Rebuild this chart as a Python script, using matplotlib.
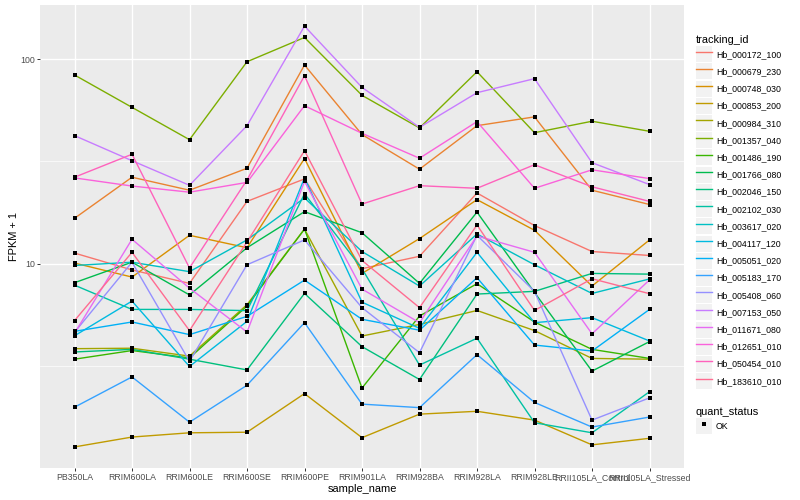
import matplotlib
matplotlib.use("Agg")
import matplotlib.pyplot as plt
from matplotlib.lines import Line2D
from matplotlib.patches import Rectangle
from matplotlib.legend_handler import HandlerTuple
from matplotlib.ticker import FixedLocator, NullFormatter

plt.rcParams['font.family'] = ['Liberation Sans', 'DejaVu Sans']

# x categories
samples = ["PB350LA", "RRIM600LA", "RRIM600LE", "RRIM600SE", "RRIM600PE",
           "RRIM901LA", "RRIM928BA", "RRIM928LA", "RRIM928LE",
           "RRII105LA_Control", "RRII105LA_Stressed"]

# FPKM + 1 per gene
hb_000172_100 = [11.3, 9.35, 8.04, 20.2, 26.0, 9.48, 10.9, 22.2, 15.4, 11.5, 11.0]
hb_000679_230 = [16.7, 26.5, 22.9, 29.3, 93.5, 42.8, 29.0, 47.3, 52.2, 22.9, 19.5]
hb_000748_030 = [10.1, 8.63, 13.8, 12.0, 32.7, 8.99, 13.3, 20.6, 14.6, 7.80, 13.1]
hb_000853_200 = [1.28, 1.43, 1.50, 1.51, 2.33, 1.42, 1.85, 1.91, 1.73, 1.31, 1.41]
hb_000984_310 = [3.86, 3.88, 3.55, 6.33, 14.8, 4.45, 5.07, 5.93, 4.73, 3.46, 3.43]
hb_001357_040 = [83.6, 58.1, 40.4, 97.0, 127.4, 66.5, 46.1, 86.7, 43.7, 49.7, 44.4]
hb_001486_190 = [3.43, 3.78, 3.48, 6.23, 14.8, 2.48, 5.57, 8.01, 5.21, 3.83, 3.46]
hb_001766_080 = [8.10, 10.2, 7.06, 12.0, 18.0, 14.2, 8.04, 17.9, 7.26, 3.00, 4.18]
hb_002046_150 = [3.72, 3.83, 3.43, 3.04, 7.18, 3.95, 2.73, 7.13, 7.35, 8.99, 8.92]
hb_002102_030 = [7.88, 6.00, 6.00, 5.92, 22.0, 9.48, 3.21, 4.34, 1.68, 1.50, 2.38]
hb_003617_020 = [9.83, 10.2, 9.17, 13.1, 21.0, 11.5, 7.80, 14.0, 9.91, 7.18, 8.45]
hb_004117_120 = [4.46, 6.59, 3.16, 5.25, 26.3, 6.51, 4.85, 11.4, 5.17, 5.47, 4.21]
hb_005051_020 = [4.69, 5.21, 4.52, 5.55, 8.34, 5.37, 4.75, 8.57, 4.02, 3.76, 6.00]
hb_005183_170 = [2.00, 2.81, 1.69, 2.56, 5.17, 2.07, 1.99, 3.61, 2.11, 1.60, 1.79]
hb_005408_060 = [4.64, 10.2, 3.35, 9.91, 13.1, 6.12, 3.69, 13.8, 7.35, 1.73, 2.22]
hb_007153_050 = [42.3, 31.9, 24.2, 47.3, 144.8, 72.7, 46.4, 68.5, 80.2, 31.2, 24.4]
hb_011671_080 = [4.59, 13.2, 7.62, 4.65, 25.3, 7.54, 5.17, 13.7, 11.4, 4.56, 8.36]
hb_012651_010 = [26.3, 24.0, 22.4, 25.0, 59.2, 43.4, 32.8, 49.5, 23.4, 28.8, 26.1]
hb_050454_010 = [26.5, 34.3, 9.56, 25.7, 82.9, 19.6, 24.1, 23.4, 30.5, 23.8, 20.2]
hb_183610_010 = [5.29, 11.4, 4.73, 12.8, 35.7, 10.4, 6.12, 15.5, 5.93, 8.47, 7.16]

tracking_ids = ["Hb_000172_100", "Hb_000679_230", "Hb_000748_030", "Hb_000853_200",
                "Hb_000984_310", "Hb_001357_040", "Hb_001486_190", "Hb_001766_080",
                "Hb_002046_150", "Hb_002102_030", "Hb_003617_020", "Hb_004117_120",
                "Hb_005051_020", "Hb_005183_170", "Hb_005408_060", "Hb_007153_050",
                "Hb_011671_080", "Hb_012651_010", "Hb_050454_010", "Hb_183610_010"]
series = [hb_000172_100, hb_000679_230, hb_000748_030, hb_000853_200, hb_000984_310,
          hb_001357_040, hb_001486_190, hb_001766_080, hb_002046_150, hb_002102_030,
          hb_003617_020, hb_004117_120, hb_005051_020, hb_005183_170, hb_005408_060,
          hb_007153_050, hb_011671_080, hb_012651_010, hb_050454_010, hb_183610_010]

# ggplot hue palette, 20 levels
colors = ["#F8766D", "#EA8331", "#D89000", "#C09B00", "#A3A500", "#7CAE00", "#39B600",
          "#00BB4E", "#00BF7D", "#00C1A3", "#00BFC4", "#00BAE0", "#00B0F6", "#35A2FF",
          "#9590FF", "#C77CFF", "#E76BF3", "#FA62DB", "#FF62BC", "#FF6C91"]

fig = plt.figure(figsize=(8, 5), dpi=100)
ax = fig.add_axes([40 / 800, 32 / 500, 644 / 800, 463 / 500])
ax.set_facecolor('#EBEBEB')
for s in ax.spines.values():
    s.set_visible(False)

x = list(range(len(samples)))
for vals, c in zip(series, colors):
    ax.plot(x, vals, color=c, lw=1.0, zorder=2)
for vals in series:
    ax.plot(x, vals, ls='none', marker='s', ms=2.7, mew=0, color='black', zorder=3)

ax.set_yscale('log')
ax.set_ylim(1.01, 183.5)
ax.set_xlim(-0.6, 10.6)
ax.set_yticks([10, 100])
ax.set_yticklabels(['10', '100'])
ax.yaxis.set_minor_locator(FixedLocator([10 ** 0.5, 10 ** 1.5]))
ax.yaxis.set_minor_formatter(NullFormatter())
ax.set_xticks(x)
ax.set_xticklabels(samples)
ax.xaxis.set_minor_locator(FixedLocator([]))

ax.set_axisbelow(True)
ax.grid(which='major', color='white', lw=1.0)
ax.grid(which='minor', axis='y', color='white', lw=0.5)
ax.tick_params(which='major', length=2.2, width=0.7, color='#333333',
               labelcolor='#4D4D4D', labelsize=6.3, pad=1.6)
ax.tick_params(which='minor', length=0)

ax.set_xlabel('sample_name', fontsize=7.9, labelpad=1.5)
ax.set_ylabel('FPKM + 1', fontsize=7.9, labelpad=0.5)

# legends
fs = 6.3
hmap = {tuple: HandlerTuple(ndivide=1, pad=0)}
handles = [(Rectangle((0, 0), 1, 1, fc='#F2F2F2', ec='none'),
            Line2D([], [], color=c, lw=1.0)) for c in colors]
leg1 = fig.legend(handles, tracking_ids, title='tracking_id', loc='upper left',
                  bbox_to_anchor=(696 / 800, 1 - 35 / 500), frameon=False,
                  fontsize=fs, title_fontsize=7.9, handler_map=hmap,
                  handlelength=1.82, handleheight=2.44, labelspacing=0.136,
                  handletextpad=0.45, borderpad=0, borderaxespad=0,
                  alignment='left')

ok_handle = (Rectangle((0, 0), 1, 1, fc='#F2F2F2', ec='none'),
             Line2D([], [], ls='none', marker='s', ms=2.7, mew=0, color='black'))
leg2 = fig.legend([ok_handle], ['OK'], title='quant_status', loc='upper left',
                  bbox_to_anchor=(696 / 800, 1 - 407 / 500), frameon=False,
                  fontsize=fs, title_fontsize=7.9, handler_map=hmap,
                  handlelength=1.82, handleheight=2.44, labelspacing=0.136,
                  handletextpad=0.45, borderpad=0, borderaxespad=0,
                  alignment='left')

fig.savefig('out.png', dpi=100)
